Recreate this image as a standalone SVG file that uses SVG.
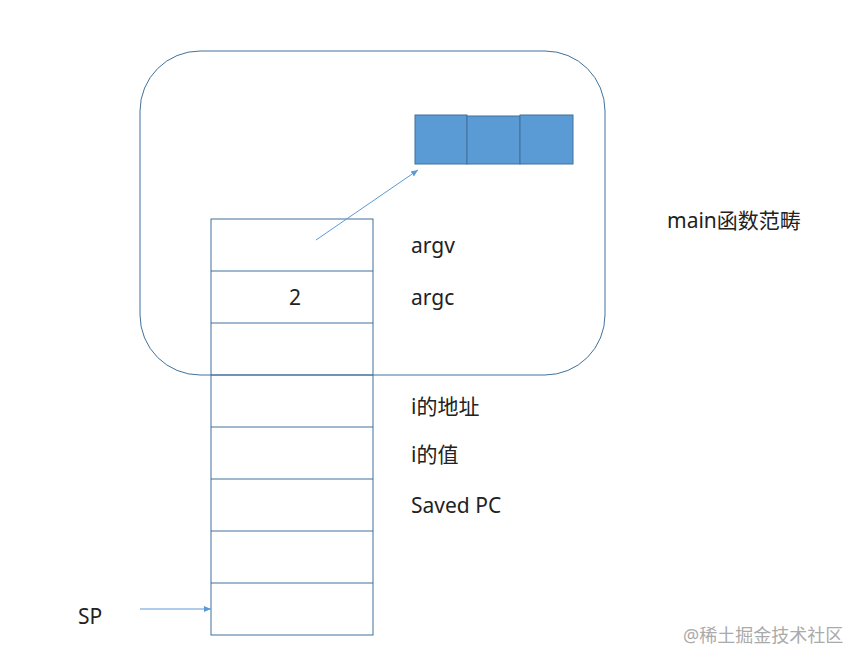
<svg xmlns="http://www.w3.org/2000/svg" width="863" height="666" viewBox="0 0 863 666">
<style>
.t{font-family:"Noto Sans","Noto Sans CJK SC",sans-serif;font-size:21px;fill:#222}
.c{fill:none;stroke:#41719C;stroke-width:1}
.b{fill:#5B9BD5;stroke:#41719C;stroke-width:1}
.w{font-family:"Noto Sans","Noto Sans CJK SC",sans-serif;font-size:18px;fill:#aaa}
</style>
<defs><marker id="a" markerWidth="8" markerHeight="8" refX="7" refY="4" orient="auto" markerUnits="userSpaceOnUse"><path d="M0,1 L7,4 L0,7 z" fill="#5B9BD5"/></marker></defs>
<rect width="863" height="666" fill="#fff"/>
<g id="scope"><rect class="c" x="140" y="51" width="465" height="324" rx="60"/></g>
<g id="array"><rect class="b" x="415" y="115" width="52" height="49"/><rect class="b" x="467" y="116" width="53" height="48"/><rect class="b" x="520" y="115" width="53" height="49"/></g>
<g id="stack">
<rect class="c" x="211" y="219" width="162" height="416"/>
<path class="c" d="M211,271H373M211,323H373M211,375H373M211,427H373M211,479H373M211,531H373M211,583H373"/>
<text class="t" x="295" y="305" text-anchor="middle">2</text>
</g>
<g id="labels">
<text class="t" x="411" y="253">argv</text>
<text class="t" x="411" y="305">argc</text>
<text class="t" x="411" y="414">i的地址</text>
<text class="t" x="411" y="462">i的值</text>
<text class="t" x="411" y="513">Saved PC</text>
<text class="t" x="667" y="228">main函数范畴</text>
<text class="t" x="78" y="624">SP</text>
</g>
<g id="connectors" stroke="#5B9BD5" stroke-width="1">
<line x1="316" y1="240" x2="418" y2="170" marker-end="url(#a)"/>
<line x1="140" y1="609" x2="211" y2="609" marker-end="url(#a)"/>
</g>
<text class="w" x="683" y="642">@稀土掘金技术社区</text>
</svg>
